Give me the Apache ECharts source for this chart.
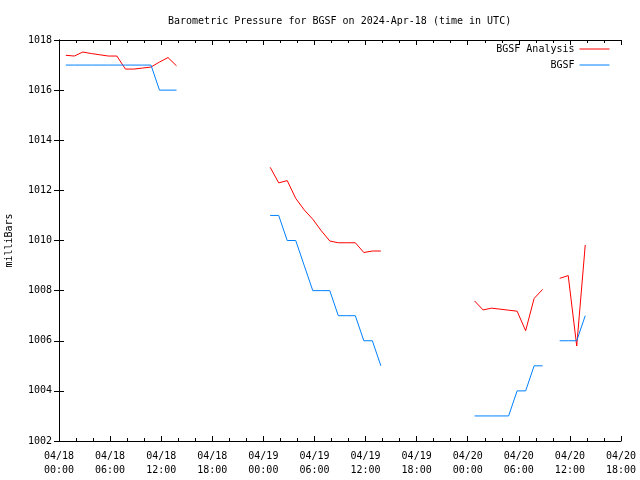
<!DOCTYPE html>
<html>
<head>
<meta charset="utf-8">
<script src="https://cdn.jsdelivr.net/npm/echarts@6/dist/echarts.min.js"></script>
<style>html,body{margin:0;padding:0;background:#fff}#c{width:640px;height:480px}</style>
</head>
<body>
<div id="c"></div>
<script>
// Hours after 2024-04-18 00:00 UTC, one array per run of data
const hours1 = [0.8,1.8,2.8,3.8,4.8,5.8,6.8,7.8,8.8,9.8,10.8,11.8,12.8,13.8];
const hours2 = [24.8,25.8,26.8,27.8,28.8,29.8,30.8,31.8,32.8,33.8,34.8,35.8,36.8,37.8];
const hours3 = [48.8,49.8,50.8,51.8,52.8,53.8,54.8,55.8,56.8];
const hours4 = [58.8,59.8,60.8,61.8];

const analysis1 = [1017.39,1017.36,1017.52,1017.46,1017.41,1017.36,1017.36,1016.84,1016.84,1016.88,1016.92,1017.12,1017.30,1016.97];
const analysis2 = [1012.92,1012.30,1012.39,1011.68,1011.22,1010.85,1010.39,1009.98,1009.91,1009.91,1009.91,1009.52,1009.58,1009.58];
const analysis3 = [1007.59,1007.23,1007.30,1007.26,1007.22,1007.18,1006.40,1007.69,1008.05];
const analysis4 = [1008.49,1008.60,1005.79,1009.82];

const obs1 = [1017,1017,1017,1017,1017,1017,1017,1017,1017,1017,1017,1016,1016,1016];
const obs2 = [1011,1011,1010,1010,1009,1008,1008,1008,1007,1007,1007,1006,1006,1005];
const obs3 = [1003,1003,1003,1003,1003,1004,1004,1005,1005];
const obs4 = [1006,1006,1006,1007];

const yTicks = [1002,1004,1006,1008,1010,1012,1014,1016,1018];
const titleText = 'Barometric Pressure for BGSF on 2024-Apr-18 (time in UTC)';

function withGaps(hs, vs) {
  const out = [];
  hs.forEach((h, i) => {
    if (i > 0) out.push([(hs[i-1][hs[i-1].length-1] + h[0]) / 2, null]);
    h.forEach((t, j) => out.push([t, vs[i][j]]));
  });
  return out;
}
const H = [hours1, hours2, hours3, hours4];
const redData = withGaps(H, [analysis1, analysis2, analysis3, analysis4]);
const blueData = withGaps(H, [obs1, obs2, obs3, obs4]);

const FONT = 'DejaVu Sans Mono';
const txt = {fontFamily: FONT, fontSize: 10, color: '#000'};
function fmtX(v) {
  const day = 18 + Math.floor(v / 24);
  const hh = v % 24;
  return '04/' + day + '\n' + String(hh).padStart(2, '0') + ':00';
}
const axLine = {show: true, lineStyle: {color: '#000', width: 1}};
const legendCommon = {right: 30, orient: 'vertical', align: 'right', padding: 0,
  itemWidth: 30, itemHeight: 10, itemGap: 6, textStyle: txt,
  itemStyle: {opacity: 0}, lineStyle: {width: 1}};
const chart = echarts.init(document.getElementById('c'), null, {renderer: 'canvas'});
chart.setOption({
  animation: false,
  backgroundColor: '#fff',
  title: {text: titleText, left: 168, top: 16, padding: 0,
    textStyle: {fontFamily: FONT, fontSize: 10, fontWeight: 'normal', color: '#000'}},
  grid: {left: 59, right: 19, top: 40, bottom: 39, containLabel: false, outerBoundsMode: 'none'},
  legend: [
    Object.assign({data: ['BGSF Analysis'], top: 44}, legendCommon),
    Object.assign({data: ['BGSF'], top: 60}, legendCommon)
  ],
  xAxis: [
    {type: 'value', min: 0, max: 66, interval: 6, position: 'bottom',
      axisLine: axLine, splitLine: {show: false},
      axisTick: {show: true, inside: true, length: 5, lineStyle: {color: '#000'}},
      minorTick: {show: true, splitNumber: 3, length: 3, lineStyle: {color: '#000'}},
      axisLabel: Object.assign({formatter: fmtX, margin: 8, lineHeight: 14}, txt)},
    {type: 'value', min: 0, max: 66, interval: 6, position: 'top',
      axisLine: axLine, splitLine: {show: false},
      axisTick: {show: true, inside: true, length: 5, lineStyle: {color: '#000'}},
      minorTick: {show: true, splitNumber: 3, length: 3, lineStyle: {color: '#000'}},
      axisLabel: {show: false}}
  ],
  yAxis: [
    {type: 'value', min: yTicks[0], max: yTicks[yTicks.length-1], interval: 2, position: 'left',
      name: 'milliBars', nameLocation: 'middle', nameGap: 45, nameRotate: 90,
      nameTextStyle: {fontFamily: FONT, fontSize: 10, color: '#000'},
      axisLine: axLine, splitLine: {show: false},
      axisTick: {show: true, inside: true, length: 5, lineStyle: {color: '#000'}},
      axisLabel: Object.assign({margin: 7, formatter: v => String(v)}, txt)},
    {type: 'value', min: yTicks[0], max: yTicks[yTicks.length-1], interval: 2, position: 'right',
      axisLine: axLine, splitLine: {show: false},
      axisTick: {show: true, inside: true, length: 5, lineStyle: {color: '#000'}},
      axisLabel: {show: false}}
  ],
  series: [
    {name: 'BGSF Analysis', type: 'line', data: redData, symbol: 'none', connectNulls: false,
      xAxisIndex: 0, yAxisIndex: 0,
      lineStyle: {color: '#ff0000', width: 1}, itemStyle: {color: '#ff0000'}},
    {name: 'BGSF', type: 'line', data: blueData, symbol: 'none', connectNulls: false,
      xAxisIndex: 0, yAxisIndex: 0,
      lineStyle: {color: '#0080ff', width: 1}, itemStyle: {color: '#0080ff'}}
  ]
});
</script>
</body>
</html>
